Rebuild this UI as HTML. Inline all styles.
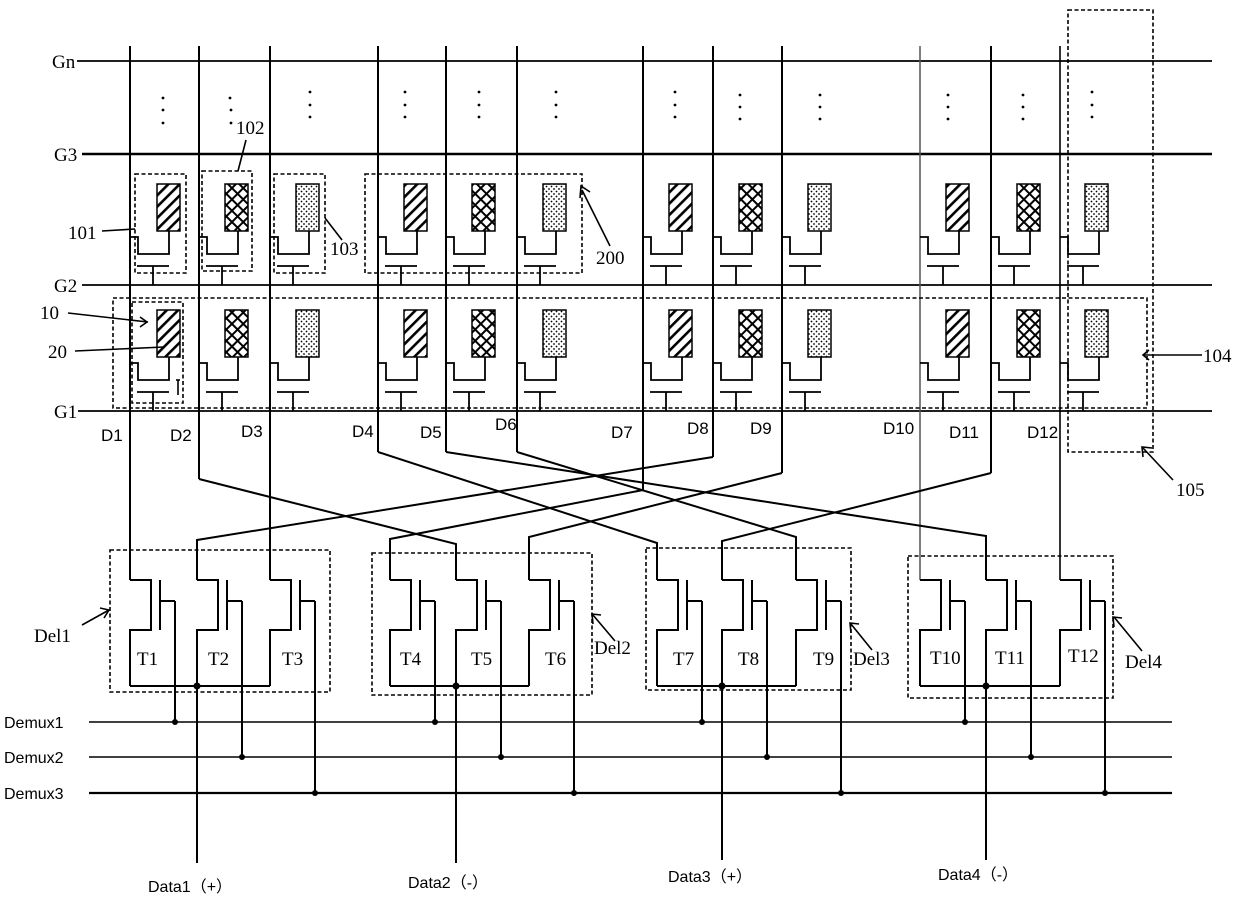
<!DOCTYPE html>
<html><head><meta charset="utf-8"><style>
html,body{margin:0;padding:0;background:#fff;}
svg{display:block;}
.s{font-family:"Liberation Serif",serif;font-size:19px;fill:#000;}
.a{font-family:"Liberation Sans",sans-serif;font-size:17px;fill:#000;}
.m{font-family:"Liberation Sans","Noto Sans CJK SC",sans-serif;font-size:16px;fill:#000;}
</style></head><body>
<svg width="1240" height="901" viewBox="0 0 1240 901" xmlns="http://www.w3.org/2000/svg">
<defs>
<pattern id="pd" width="8" height="8" patternUnits="userSpaceOnUse" patternTransform="rotate(45)">
<rect width="8" height="8" fill="#fff"/><rect x="0" y="0" width="2.6" height="8" fill="#000"/></pattern>
<pattern id="pc" width="8" height="8" patternUnits="userSpaceOnUse" patternTransform="rotate(45)">
<rect width="8" height="8" fill="#fff"/><rect x="0" y="0" width="2" height="8" fill="#000"/><rect x="0" y="0" width="8" height="2" fill="#000"/></pattern>
<pattern id="pt" width="5" height="5" patternUnits="userSpaceOnUse">
<rect width="5" height="5" fill="#fff"/><circle cx="1.5" cy="1.5" r="0.9" fill="#000"/><circle cx="4" cy="4" r="0.9" fill="#000"/></pattern>
<g id="tft" fill="none" stroke="#000" stroke-width="1.8">
<path d="M0,237 H8 V254 H39 V231"/><path d="M7,266 H39"/><path d="M23,266 V285"/>
</g>
<g id="tr" fill="none" stroke="#000" stroke-width="2">
<path d="M0,580 H21 V630 H0 V686"/><path d="M30,580 V630"/><path d="M30,601 H45"/>
</g>
</defs>

<g stroke="#000" stroke-width="1.8">
<line x1="77" y1="61" x2="1212" y2="61"/>
<line x1="82" y1="154" x2="1212" y2="154" stroke-width="2.4"/>
<line x1="82" y1="285" x2="1212" y2="285"/>
<line x1="78" y1="411" x2="1212" y2="411"/>
</g>
<text class="s" x="52" y="68">Gn</text>
<text class="s" x="54" y="161">G3</text>
<text class="s" x="54" y="292">G2</text>
<text class="s" x="54" y="418">G1</text>

<g stroke="#000" stroke-width="2" fill="none">
<line x1="130" y1="46" x2="130" y2="580"/>
<line x1="199" y1="46" x2="199" y2="479"/>
<line x1="270" y1="46" x2="270" y2="580"/>
<line x1="378" y1="46" x2="378" y2="452"/>
<line x1="446" y1="46" x2="446" y2="452"/>
<line x1="517" y1="46" x2="517" y2="452"/>
<line x1="643" y1="46" x2="643" y2="490"/>
<line x1="713" y1="46" x2="713" y2="457"/>
<line x1="782" y1="46" x2="782" y2="473"/>
<line x1="920" y1="46" x2="920" y2="580" stroke="#555" stroke-width="1.5"/>
<line x1="991" y1="46" x2="991" y2="473"/>
<line x1="1060" y1="46" x2="1060" y2="580" stroke-width="1.6"/>
<polyline points="199,479 456,544 456,580"/>
<polyline points="713,457 197,540 197,580"/>
<polyline points="643,490 390,539 390,580"/>
<polyline points="782,473 529,537 529,580"/>
<polyline points="378,452 657,543 657,580"/>
<polyline points="991,473 722,541 722,580"/>
<polyline points="517,452 796,537 796,580"/>
<polyline points="446,452 986,536 986,580"/>
</g>

<g fill="#000">
<circle cx="163" cy="98" r="1.4"/><circle cx="163" cy="110" r="1.4"/><circle cx="163" cy="123" r="1.4"/>
<circle cx="230" cy="98" r="1.4"/><circle cx="231" cy="110" r="1.4"/><circle cx="231" cy="123" r="1.4"/>
<circle cx="310" cy="92" r="1.4"/><circle cx="310" cy="105" r="1.4"/><circle cx="310" cy="117" r="1.4"/>
<circle cx="405" cy="92" r="1.4"/><circle cx="405" cy="105" r="1.4"/><circle cx="405" cy="117" r="1.4"/>
<circle cx="479" cy="92" r="1.4"/><circle cx="479" cy="105" r="1.4"/><circle cx="479" cy="117" r="1.4"/>
<circle cx="556" cy="92" r="1.4"/><circle cx="556" cy="105" r="1.4"/><circle cx="556" cy="117" r="1.4"/>
<circle cx="675" cy="92" r="1.4"/><circle cx="675" cy="105" r="1.4"/><circle cx="675" cy="117" r="1.4"/>
<circle cx="740" cy="95" r="1.4"/><circle cx="740" cy="107" r="1.4"/><circle cx="740" cy="119" r="1.4"/>
<circle cx="820" cy="95" r="1.4"/><circle cx="820" cy="107" r="1.4"/><circle cx="820" cy="119" r="1.4"/>
<circle cx="948" cy="95" r="1.4"/><circle cx="948" cy="107" r="1.4"/><circle cx="948" cy="119" r="1.4"/>
<circle cx="1023" cy="95" r="1.4"/><circle cx="1023" cy="107" r="1.4"/><circle cx="1023" cy="119" r="1.4"/>
<circle cx="1092" cy="92" r="1.4"/><circle cx="1092" cy="105" r="1.4"/><circle cx="1092" cy="117" r="1.4"/>
</g>

<g>
<use href="#tft" x="130"/><use href="#tft" x="199"/><use href="#tft" x="270"/>
<use href="#tft" x="378"/><use href="#tft" x="446"/><use href="#tft" x="517"/>
<use href="#tft" x="643"/><use href="#tft" x="713"/><use href="#tft" x="782"/>
<use href="#tft" x="920"/><use href="#tft" x="991"/><use href="#tft" x="1060"/>
<use href="#tft" x="130" y="126"/><use href="#tft" x="199" y="126"/><use href="#tft" x="270" y="126"/>
<use href="#tft" x="378" y="126"/><use href="#tft" x="446" y="126"/><use href="#tft" x="517" y="126"/>
<use href="#tft" x="643" y="126"/><use href="#tft" x="713" y="126"/><use href="#tft" x="782" y="126"/>
<use href="#tft" x="920" y="126"/><use href="#tft" x="991" y="126"/><use href="#tft" x="1060" y="126"/>
</g>
<g stroke="#000" stroke-width="1.5">
<rect x="157" y="184" width="23" height="47" fill="url(#pd)"/>
<rect x="225" y="184" width="23" height="47" fill="url(#pc)"/>
<rect x="296" y="184" width="23" height="47" fill="url(#pt)"/>
<rect x="404" y="184" width="23" height="47" fill="url(#pd)"/>
<rect x="472" y="184" width="23" height="47" fill="url(#pc)"/>
<rect x="543" y="184" width="23" height="47" fill="url(#pt)"/>
<rect x="669" y="184" width="23" height="47" fill="url(#pd)"/>
<rect x="739" y="184" width="23" height="47" fill="url(#pc)"/>
<rect x="808" y="184" width="23" height="47" fill="url(#pt)"/>
<rect x="946" y="184" width="23" height="47" fill="url(#pd)"/>
<rect x="1017" y="184" width="23" height="47" fill="url(#pc)"/>
<rect x="1085" y="184" width="23" height="47" fill="url(#pt)"/>
<rect x="157" y="310" width="23" height="47" fill="url(#pd)"/>
<rect x="225" y="310" width="23" height="47" fill="url(#pc)"/>
<rect x="296" y="310" width="23" height="47" fill="url(#pt)"/>
<rect x="404" y="310" width="23" height="47" fill="url(#pd)"/>
<rect x="472" y="310" width="23" height="47" fill="url(#pc)"/>
<rect x="543" y="310" width="23" height="47" fill="url(#pt)"/>
<rect x="669" y="310" width="23" height="47" fill="url(#pd)"/>
<rect x="739" y="310" width="23" height="47" fill="url(#pc)"/>
<rect x="808" y="310" width="23" height="47" fill="url(#pt)"/>
<rect x="946" y="310" width="23" height="47" fill="url(#pd)"/>
<rect x="1017" y="310" width="23" height="47" fill="url(#pc)"/>
<rect x="1085" y="310" width="23" height="47" fill="url(#pt)"/>
</g>

<g fill="none" stroke="#000" stroke-width="1.6" stroke-dasharray="4,2.5">
<rect x="135" y="174" width="51" height="99"/>
<rect x="202" y="171" width="50" height="100"/>
<rect x="274" y="174" width="51" height="99"/>
<rect x="365" y="174" width="217" height="99"/>
<rect x="113" y="298" width="1034" height="110"/>
<rect x="132" y="302" width="51" height="101"/>
<rect x="1068" y="10" width="85" height="442"/>
<rect x="110" y="550" width="220" height="142"/>
<rect x="372" y="553" width="220" height="142"/>
<rect x="646" y="548" width="205" height="142"/>
<rect x="908" y="556" width="205" height="142"/>
</g>

<g fill="none" stroke="#000" stroke-width="1.6">
<line x1="102" y1="231" x2="135" y2="229"/>
<line x1="246" y1="140" x2="238" y2="171"/>
<line x1="325" y1="218" x2="342" y2="240"/>
<line x1="610" y1="246" x2="582" y2="190"/><polyline points="580,198 581,186 590,192"/>
<line x1="68" y1="313" x2="148" y2="322"/><polyline points="140,317 147,322 140,327"/>
<line x1="75" y1="351" x2="164" y2="347"/>
<line x1="1202" y1="355" x2="1144" y2="355"/><polyline points="1149,350 1143,355 1149,360"/>
<line x1="1173" y1="480" x2="1143" y2="448"/><polyline points="1143,457 1142,447 1152,448"/>
<line x1="82" y1="625" x2="109" y2="610"/><polyline points="100,608 109,610 104,618"/>
<line x1="615" y1="641" x2="593" y2="615"/><polyline points="593,624 592,614 601,615"/>
<line x1="872" y1="650" x2="851" y2="624"/><polyline points="851,633 850,623 859,624"/>
<line x1="1142" y1="651" x2="1114" y2="617"/><polyline points="1114,627 1113,617 1122,618"/>
<line x1="176" y1="380" x2="180" y2="380"/><line x1="178" y1="380" x2="178" y2="395"/>
</g>

<text class="s" x="68" y="239">101</text>
<text class="s" x="236" y="134">102</text>
<text class="s" x="330" y="255">103</text>
<text class="s" x="596" y="264">200</text>
<text class="s" x="40" y="319">10</text>
<text class="s" x="48" y="358">20</text>
<text class="s" x="1203" y="362">104</text>
<text class="s" x="1176" y="496">105</text>
<text class="s" x="34" y="642">Del1</text>
<text class="s" x="594" y="654">Del2</text>
<text class="s" x="853" y="665">Del3</text>
<text class="s" x="1125" y="668">Del4</text>

<text class="a" x="101" y="441">D1</text>
<text class="a" x="170" y="441">D2</text>
<text class="a" x="241" y="437">D3</text>
<text class="a" x="352" y="437">D4</text>
<text class="a" x="420" y="438">D5</text>
<text class="a" x="495" y="430">D6</text>
<text class="a" x="611" y="438">D7</text>
<text class="a" x="687" y="434">D8</text>
<text class="a" x="750" y="434">D9</text>
<text class="a" x="883" y="434">D10</text>
<text class="a" x="949" y="438">D11</text>
<text class="a" x="1027" y="438">D12</text>

<g>
<use href="#tr" x="130"/><use href="#tr" x="197"/><use href="#tr" x="270"/>
<use href="#tr" x="390"/><use href="#tr" x="456"/><use href="#tr" x="529"/>
<use href="#tr" x="657"/><use href="#tr" x="722"/><use href="#tr" x="796"/>
<use href="#tr" x="920"/><use href="#tr" x="986"/><use href="#tr" x="1060"/>
</g>
<g fill="none" stroke="#000" stroke-width="2">
<line x1="130" y1="686" x2="270" y2="686"/>
<line x1="390" y1="686" x2="529" y2="686"/>
<line x1="657" y1="686" x2="796" y2="686"/>
<line x1="920" y1="686" x2="1060" y2="686"/>
<line x1="197" y1="686" x2="197" y2="863"/>
<line x1="456" y1="686" x2="456" y2="863"/>
<line x1="722" y1="686" x2="722" y2="860"/>
<line x1="986" y1="686" x2="986" y2="860"/>
<line x1="175" y1="601" x2="175" y2="722"/>
<line x1="242" y1="601" x2="242" y2="757"/>
<line x1="315" y1="601" x2="315" y2="793"/>
<line x1="435" y1="601" x2="435" y2="722"/>
<line x1="501" y1="601" x2="501" y2="757"/>
<line x1="574" y1="601" x2="574" y2="793"/>
<line x1="702" y1="601" x2="702" y2="722"/>
<line x1="767" y1="601" x2="767" y2="757"/>
<line x1="841" y1="601" x2="841" y2="793"/>
<line x1="965" y1="601" x2="965" y2="722"/>
<line x1="1031" y1="601" x2="1031" y2="757"/>
<line x1="1105" y1="601" x2="1105" y2="793"/>
<line x1="89" y1="722" x2="1172" y2="722" stroke-width="1.6"/>
<line x1="89" y1="757" x2="1172" y2="757" stroke-width="1.6"/>
<line x1="89" y1="793" x2="1172" y2="793" stroke-width="2.2"/>
</g>
<g fill="#000">
<circle cx="197" cy="686" r="3.5"/><circle cx="456" cy="686" r="3.5"/><circle cx="722" cy="686" r="3.5"/><circle cx="986" cy="686" r="3.5"/>
<circle cx="175" cy="722" r="3"/><circle cx="435" cy="722" r="3"/><circle cx="702" cy="722" r="3"/><circle cx="965" cy="722" r="3"/>
<circle cx="242" cy="757" r="3"/><circle cx="501" cy="757" r="3"/><circle cx="767" cy="757" r="3"/><circle cx="1031" cy="757" r="3"/>
<circle cx="315" cy="793" r="3"/><circle cx="574" cy="793" r="3"/><circle cx="841" cy="793" r="3"/><circle cx="1105" cy="793" r="3"/>
</g>
<text class="s" x="137" y="665">T1</text>
<text class="s" x="208" y="665">T2</text>
<text class="s" x="282" y="665">T3</text>
<text class="s" x="400" y="665">T4</text>
<text class="s" x="471" y="665">T5</text>
<text class="s" x="545" y="665">T6</text>
<text class="s" x="673" y="665">T7</text>
<text class="s" x="738" y="665">T8</text>
<text class="s" x="813" y="665">T9</text>
<text class="s" x="930" y="664">T10</text>
<text class="s" x="995" y="664">T11</text>
<text class="s" x="1068" y="662">T12</text>

<text class="m" x="4" y="728">Demux1</text>
<text class="m" x="4" y="763">Demux2</text>
<text class="m" x="4" y="799">Demux3</text>
<text class="m" x="148" y="892">Data1（+）</text>
<text class="m" x="408" y="888">Data2（-）</text>
<text class="m" x="668" y="882">Data3（+）</text>
<text class="m" x="938" y="880">Data4（-）</text>
</svg>
</body></html>
